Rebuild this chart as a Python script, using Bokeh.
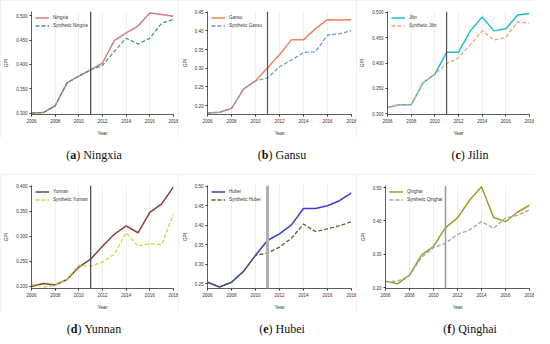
from bokeh.plotting import figure
from bokeh.models import FixedTicker, PrintfTickFormatter, Span, Div, Range1d
from bokeh.layouts import column, row
from bokeh.embed import file_html
from bokeh.resources import INLINE

years = [2006, 2007, 2008, 2009, 2010, 2011, 2012, 2013, 2014, 2015, 2016, 2017, 2018]
x_ticks = [2006, 2008, 2010, 2012, 2014, 2016, 2018]
treat_year = 2011

ningxia = [0.300, 0.301, 0.315, 0.362, 0.376, 0.389, 0.403, 0.449, 0.465, 0.479, 0.506, 0.503, 0.499]
syn_ningxia = [0.300, 0.301, 0.315, 0.362, 0.376, 0.389, 0.398, 0.427, 0.454, 0.442, 0.454, 0.485, 0.493]
ningxia_ticks = [0.30, 0.35, 0.40, 0.45, 0.50]

gansu = [0.180, 0.182, 0.192, 0.244, 0.266, 0.301, 0.336, 0.376, 0.376, 0.406, 0.430, 0.429, 0.430]
syn_gansu = [0.180, 0.182, 0.192, 0.244, 0.266, 0.274, 0.304, 0.322, 0.342, 0.344, 0.389, 0.392, 0.401]
gansu_ticks = [0.20, 0.25, 0.30, 0.35, 0.40, 0.45]

jilin = [0.313, 0.318, 0.318, 0.361, 0.378, 0.421, 0.421, 0.463, 0.490, 0.463, 0.467, 0.494, 0.497]
syn_jilin = [0.313, 0.318, 0.318, 0.361, 0.378, 0.399, 0.410, 0.436, 0.463, 0.445, 0.450, 0.481, 0.478]
jilin_ticks = [0.30, 0.35, 0.40, 0.45, 0.50]

yunnan = [0.199, 0.205, 0.202, 0.213, 0.238, 0.254, 0.280, 0.304, 0.321, 0.307, 0.348, 0.365, 0.399]
syn_yunnan = [0.204, 0.198, 0.201, 0.214, 0.242, 0.240, 0.248, 0.264, 0.307, 0.280, 0.285, 0.283, 0.345]
yunnan_ticks = [0.20, 0.25, 0.30, 0.35, 0.40]

hubei = [0.254, 0.242, 0.254, 0.282, 0.323, 0.361, 0.378, 0.401, 0.443, 0.443, 0.450, 0.463, 0.483]
syn_hubei = [0.254, 0.242, 0.254, 0.282, 0.323, 0.329, 0.344, 0.367, 0.403, 0.384, 0.391, 0.399, 0.409]
hubei_ticks = [0.25, 0.30, 0.35, 0.40, 0.45, 0.50]

qinghai = [0.220, 0.212, 0.238, 0.298, 0.324, 0.380, 0.409, 0.462, 0.502, 0.411, 0.398, 0.426, 0.447]
syn_qinghai = [0.218, 0.220, 0.236, 0.291, 0.320, 0.333, 0.360, 0.373, 0.398, 0.378, 0.409, 0.417, 0.433]
qinghai_ticks = [0.20, 0.30, 0.40, 0.50]

W, H = 178, 138


def panel(name, treated, synth, yticks, yr, c_t, c_s, v_color, v_width, fmt):
    p = figure(width=W, height=H, output_backend="svg", toolbar_location=None,
               x_range=Range1d(2006, 2018), y_range=Range1d(*yr),
               min_border_left=22, min_border_right=5, min_border_top=11, min_border_bottom=4,
               styles={"outline": "1px solid #ececec", "outline-offset": "-1px"})
    p.outline_line_color = None
    p.line(years, treated, line_color=c_t, line_width=1.5, legend_label=name)
    p.line(years, synth, line_color=c_s, line_width=1.3, line_dash="4 2",
           legend_label="Synthetic " + name)
    p.add_layout(Span(location=treat_year, dimension="height", line_color=v_color,
                      line_width=v_width))
    p.xaxis.ticker = FixedTicker(ticks=x_ticks)
    p.yaxis.ticker = FixedTicker(ticks=yticks)
    p.yaxis.formatter = PrintfTickFormatter(format=fmt)
    p.xgrid.ticker = FixedTicker(ticks=x_ticks)
    p.xgrid.grid_line_color = "#eeeeee"
    p.ygrid.grid_line_color = None
    for ax in (p.xaxis[0], p.yaxis[0]):
        ax.axis_line_color = "#333333"
        ax.axis_line_width = 0.8
        ax.major_tick_line_color = "#333333"
        ax.major_tick_in = 0
        ax.major_tick_out = 2
        ax.minor_tick_line_color = None
        ax.major_label_text_font = "Liberation Sans"
        ax.major_label_text_font_size = "4.5px"
        ax.major_label_text_color = "#333333"
        ax.major_label_standoff = 2
        ax.axis_label_text_font = "Liberation Sans"
        ax.axis_label_text_font_size = "5px"
        ax.axis_label_text_font_style = "normal"
        ax.axis_label_text_color = "#333333"
        ax.axis_label_standoff = 4
    p.xaxis.axis_label = "Year"
    p.yaxis.axis_label = "GPI"
    p.legend.location = "top_left"
    p.legend.background_fill_alpha = 0
    p.legend.border_line_color = None
    p.legend.label_text_font = "Liberation Sans"
    p.legend.label_text_font_size = "4.5px"
    p.legend.label_text_color = "#333333"
    p.legend.glyph_width = 14
    p.legend.glyph_height = 5
    p.legend.label_height = 5
    p.legend.spacing = 3
    p.legend.padding = 2
    p.legend.margin = 4
    p.legend.label_standoff = 4
    return p


def caption(letter, name):
    return Div(text=("<div style=\"width:%dpx;text-align:center;font-family:'Liberation Serif',serif;"
                     "font-size:12px;color:#111;padding-top:4px\">(<b>%s</b>)&nbsp;%s</div>")
               % (W, letter, name), width=W, height=26)


p1 = panel("Ningxia", ningxia, syn_ningxia, ningxia_ticks, (0.297, 0.509), "#d47b87", "#3d9c70", "#444444", 1.2, "%.3f")
p2 = panel("Gansu", gansu, syn_gansu, gansu_ticks, (0.176, 0.452), "#f4845a", "#6a9fd4", "#555555", 1.2, "%.2f")
p3 = panel("Jilin", jilin, syn_jilin, jilin_ticks, (0.299, 0.501), "#1cbfcf", "#f2a47a", "#333333", 1.0, "%.3f")
p4 = panel("Yunnan", yunnan, syn_yunnan, yunnan_ticks, (0.195, 0.402), "#8c3b3b", "#c8dc3c", "#444444", 1.2, "%.3f")
p5 = panel("Hubei", hubei, syn_hubei, hubei_ticks, (0.238, 0.502), "#3b3bd6", "#4b6b2b", "#b0b0b0", 3.0, "%.2f")
p6 = panel("Qinghai", qinghai, syn_qinghai, qinghai_ticks, (0.198, 0.506), "#9f9d24", "#a0aaa4", "#9a9a9a", 1.5, "%.2f")

layout = column(
    row(p1, p2, p3, spacing=0),
    row(caption("a", "Ningxia"), caption("b", "Gansu"), caption("c", "Jilin"), spacing=0),
    row(p4, p5, p6, spacing=0),
    row(caption("d", "Yunnan"), caption("e", "Hubei"), caption("f", "Qinghai"), spacing=0),
    spacing=0,
)

open("out.html", "w").write(file_html(layout, INLINE))
